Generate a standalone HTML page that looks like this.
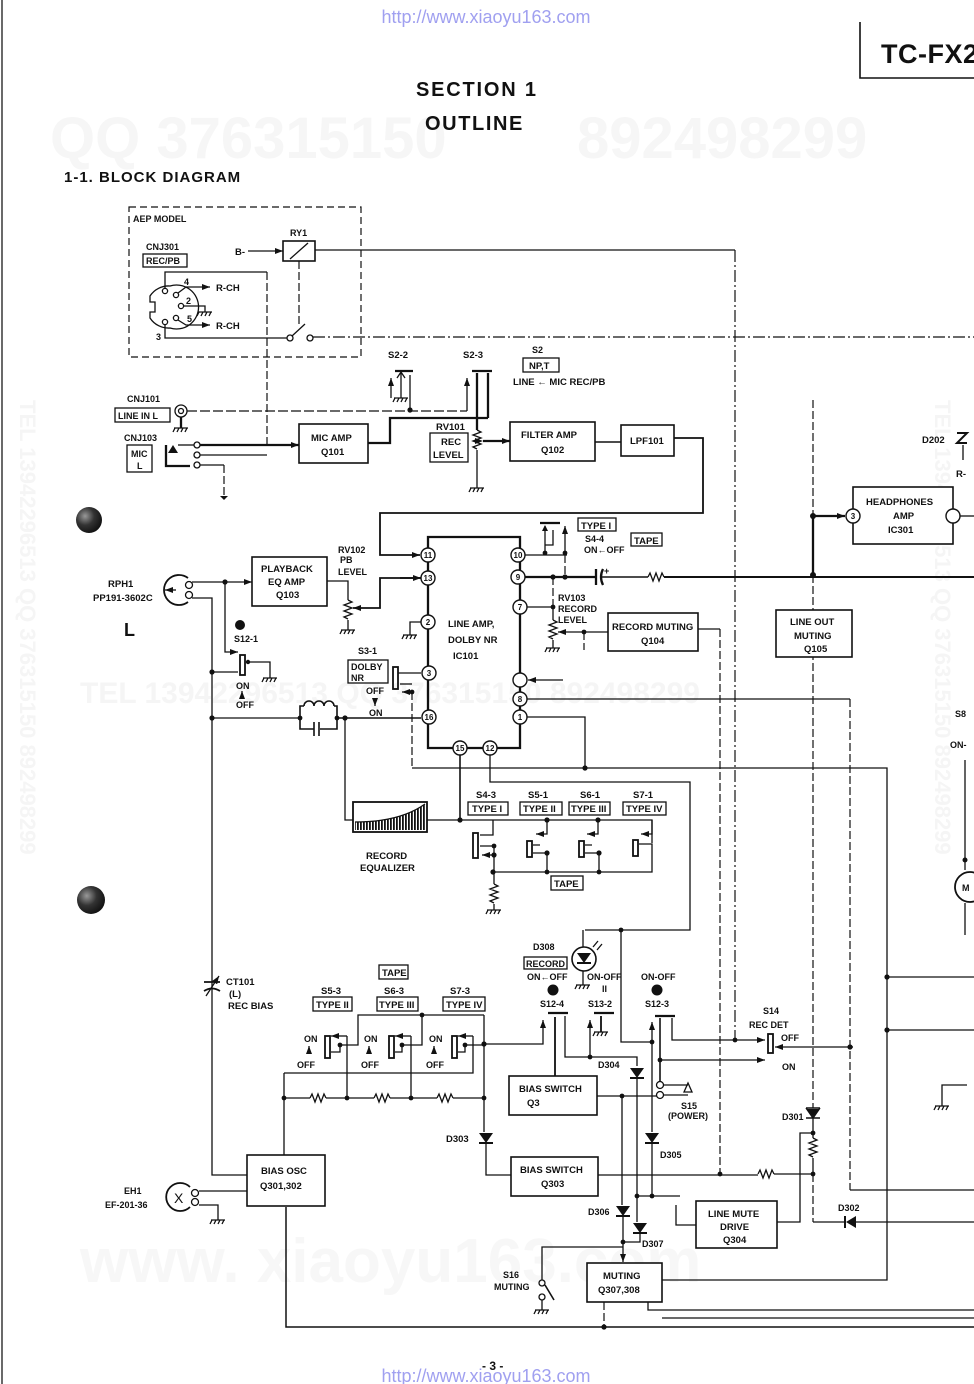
<!DOCTYPE html>
<html><head><meta charset="utf-8">
<style>
html,body{margin:0;padding:0;background:#fff;}
svg{display:block;}
text{font-family:"Liberation Sans",sans-serif;fill:#111;font-weight:bold;font-size:9.5px;}
.w{fill:none;stroke:#111;stroke-width:1.3;}
.k{fill:none;stroke:#111;stroke-width:2.3;}
.d{fill:none;stroke:#111;stroke-width:1.2;stroke-dasharray:8,3;}
.dd{fill:none;stroke:#111;stroke-width:1.2;stroke-dasharray:12,3,2,3;}
.b{fill:#fff;stroke:#111;stroke-width:1.6;}
.dot{fill:#111;}
</style></head><body>
<svg width="974" height="1384" viewBox="0 0 974 1384" xmlns="http://www.w3.org/2000/svg">
<defs>
<g id="gnd"><path d="M-7,0H7M-6,0l-2,4M-2,0l-2,4M2,0l-2,4M6,0l-2,4" stroke="#111" stroke-width="1.3" fill="none"/></g>
<g id="dD"><path d="M-7,-5H7L0,5Z" fill="#111"/><path d="M-7,5H7" stroke="#111" stroke-width="2"/></g>
<g id="rV"><path d="M0,0l4,2l-8,3l8,3l-8,3l8,3l-8,3l4,2" stroke="#111" stroke-width="1.3" fill="none"/></g>
<g id="rH"><path d="M0,0l2,-4l3,8l3,-8l3,8l3,-8l2,4" stroke="#111" stroke-width="1.3" fill="none"/></g>
<marker id="ar" viewBox="0 0 8 6" refX="8" refY="3" markerWidth="8" markerHeight="6" markerUnits="userSpaceOnUse" orient="auto"><path d="M0,0L8,3L0,6Z" fill="#111"/></marker>
<pattern id="hatch" width="3" height="4" patternUnits="userSpaceOnUse"><rect width="3" height="4" fill="#fff"/><rect width="1.8" height="4" fill="#111"/></pattern>
<radialGradient id="hole" cx="0.35" cy="0.35" r="0.7"><stop offset="0" stop-color="#999"/><stop offset="0.5" stop-color="#333"/><stop offset="1" stop-color="#111"/></radialGradient>
</defs>

<!-- faint watermarks -->
<g>
<text x="50" y="158" style="font-size:58px;fill:#f6f6f6">QQ 376315150</text>
<text x="577" y="158" style="font-size:58px;fill:#f6f6f6">892498299</text>
<text x="80" y="703" style="font-size:30px;fill:#f5f5f5">TEL 13942296513   QQ 376315150   892498299</text>
<text x="80" y="1282" style="font-size:62px;fill:#f7f7f7">www. xiaoyu163.com</text>
<text transform="translate(20,400) rotate(90)" style="font-size:22px;fill:#f5f5f5">TEL 13942296513  QQ 376315150  892498299</text>
<text transform="translate(935,400) rotate(90)" style="font-size:22px;fill:#f5f5f5">TEL 13942296513  QQ 376315150  892498299</text>
</g>

<!-- page frame / header -->
<path d="M2,0V1384" stroke="#444" stroke-width="1.6"/>
<text x="486" y="23" text-anchor="middle" style="font-size:18px;font-weight:normal;fill:#a0a0f0">http://www.xiaoyu163.com</text>
<path d="M860,22V78H974" class="w" style="stroke-width:1.6"/>
<text x="881" y="63" style="font-size:27px;letter-spacing:0.5px">TC-FX2</text>
<text x="416" y="96" style="font-size:20px;letter-spacing:1.8px">SECTION 1</text>
<text x="425" y="130" style="font-size:20px;letter-spacing:1.6px">OUTLINE</text>
<text x="64" y="182" style="font-size:15px;letter-spacing:1px">1-1.  BLOCK DIAGRAM</text>

<circle cx="89" cy="520" r="13" fill="url(#hole)"/>
<circle cx="91" cy="900" r="14" fill="url(#hole)"/>

<!-- AEP model block -->
<rect x="129" y="207" width="232" height="150" class="d" style="stroke-dasharray:7,4"/>
<text x="133" y="222" style="font-size:9px">AEP MODEL</text>
<text x="146" y="250" style="font-size:9px">CNJ301</text>
<rect x="143" y="254" width="44" height="13" class="w"/>
<text x="146" y="264" style="font-size:9px">REC/PB</text>
<path d="M170,286A22,22 0 1 1 170,328A22,22 0 0 1 150,318V312H155V302H150V296A22,22 0 0 1 170,286Z" class="w"/>
<g class="w"><circle cx="165" cy="291" r="2.6"/><circle cx="176" cy="295" r="2.6"/><circle cx="181" cy="306" r="2.6"/><circle cx="176" cy="318" r="2.6"/><circle cx="165" cy="322" r="2.6"/></g>
<path d="M178,293L186,287H210" class="w" marker-end="url(#ar)"/>
<text x="184" y="285" style="font-size:9px">4</text><text x="216" y="291">R-CH</text>
<path d="M184,306H205V312" class="w"/><use href="#gnd" x="205" y="312"/>
<text x="186" y="304" style="font-size:9px">2</text>
<path d="M178,320L186,325H210" class="w" marker-end="url(#ar)"/>
<text x="187" y="322" style="font-size:9px">5</text><text x="216" y="329">R-CH</text>
<path d="M165,325V338H287" class="w"/><text x="156" y="340" style="font-size:9px">3</text>
<path d="M165,288V272H267" class="w"/>
<path d="M267,272V445" class="d"/>
<rect x="283" y="241" width="32" height="20" class="w" style="stroke-width:1.6"/>
<path d="M290,259L308,243" class="w"/>
<text x="290" y="236" style="font-size:9px">RY1</text>
<text x="235" y="255">B-</text>
<path d="M248,251H283" class="w" marker-end="url(#ar)"/>
<path d="M315,250H735" class="w"/>
<path d="M299,261V326" class="d"/>
<circle cx="290" cy="338" r="3" class="w"/><circle cx="310" cy="338" r="3" class="w"/>
<path d="M292,336L305,324" class="w"/>
<path d="M313,337H974" class="dd"/>

<!-- inputs -->
<text x="127" y="402" style="font-size:9px">CNJ101</text>
<rect x="115" y="408" width="55" height="14" class="w"/>
<text x="118" y="419" style="font-size:9px">LINE IN L</text>
<circle cx="181" cy="411" r="6" class="w"/><circle cx="181" cy="411" r="2.5" class="w"/>
<path d="M181,417V428" class="k"/><use href="#gnd" x="181" y="428"/>
<path d="M187,411H467" class="d" style="stroke-dasharray:10,3"/>
<circle cx="410" cy="410" r="2.6" class="dot"/>
<path d="M410,410V375" class="w"/>
<!-- S2-2 -->
<text x="388" y="358">S2-2</text>
<path d="M391,398V378" class="w" marker-end="url(#ar)"/>
<path d="M395,371H413" class="k"/>
<path d="M401,373V398M397,378L401,372L405,378" class="w"/><use href="#gnd" x="401" y="398"/>
<!-- S2-3 -->
<text x="463" y="358">S2-3</text>
<path d="M467,411V378" class="w" marker-end="url(#ar)"/>
<path d="M472,371H492" class="k"/>
<path d="M477,373V430M488,373V418" class="k"/>
<path d="M368,443H390V418H488" class="k"/>
<use href="#rV" x="477" y="430"/>
<path d="M477,450V488" class="w"/><use href="#gnd" x="477" y="488"/>
<path d="M483,441H510" class="k" marker-end="url(#ar)" marker-start="url(#ar)"/>

<text x="124" y="441" style="font-size:9px">CNJ103</text>
<rect x="127" y="445" width="25" height="27" class="w"/>
<text x="131" y="457" style="font-size:9px">MIC</text><text x="137" y="469" style="font-size:9px">L</text>
<path d="M166,445V466H190" class="k"/>
<path d="M168,453L173,445L178,453Z" fill="#111"/>
<g class="w"><circle cx="197" cy="445" r="3"/><circle cx="197" cy="455" r="3"/><circle cx="197" cy="465" r="3"/></g>
<path d="M178,445H194" class="w"/>
<path d="M200,445H299" class="k" marker-end="url(#ar)"/>
<path d="M200,455H267" class="w"/>
<path d="M200,465H224" class="w"/><path d="M224,465V495" class="d"/>
<path d="M220,496L228,496L224,500Z" fill="#111"/>

<rect x="299" y="424" width="69" height="39" class="b"/>
<text x="311" y="441">MIC AMP</text><text x="321" y="455">Q101</text>
<text x="436" y="430">RV101</text>
<rect x="430" y="433" width="38" height="29" class="w"/>
<text x="441" y="445">REC</text><text x="433" y="458">LEVEL</text>

<rect x="510" y="422" width="85" height="39" class="b"/>
<text x="521" y="438">FILTER AMP</text><text x="541" y="453">Q102</text>
<path d="M595,442H621" class="w" style="stroke-width:1.6"/>
<rect x="621" y="425" width="53" height="31" class="b"/>
<text x="630" y="444">LPF101</text>
<path d="M674,438H703V513H380V555H420" class="w" style="stroke-width:1.8" marker-end="url(#ar)"/>
<text x="532" y="353" style="font-size:9px">S2</text>
<rect x="523" y="358" width="36" height="14" class="w"/>
<text x="529" y="369">NP,T</text>
<text x="513" y="385">LINE ← MIC REC/PB</text>

<!-- long verticals right -->
<path d="M735,250V1040" class="dd"/>
<path d="M813,400V516" class="d"/>
<path d="M813,575V1108" class="d"/>

<!-- IC101 -->
<path d="M428,537H520V748H428Z" class="k"/>
<text x="448" y="627">LINE AMP,</text>
<text x="448" y="643">DOLBY NR</text>
<text x="453" y="659">IC101</text>

<!-- playback -->
<text x="108" y="587">RPH1</text>
<text x="93" y="601">PP191-3602C</text>
<text x="124" y="636" style="font-size:18px">L</text>
<path d="M188,578A15,15 0 1 0 188,602" class="w" style="stroke-width:1.8"/>
<path d="M176,590H165" class="w" marker-end="url(#ar)"/>
<circle cx="189" cy="585" r="3.5" class="w"/><circle cx="189" cy="595" r="3.5" class="w"/>
<path d="M192,582H252" class="w" marker-end="url(#ar)"/>
<circle cx="225" cy="582" r="2.6" class="dot"/>
<path d="M192,598H212V1175H247" class="w"/>
<circle cx="212" cy="672" r="2.6" class="dot"/><circle cx="212" cy="718" r="2.6" class="dot"/>
<path d="M225,582V652H238" class="w" marker-end="url(#ar)"/>
<rect x="240" y="655" width="5" height="20" class="w" style="stroke-width:1.8"/>
<path d="M212,672H238" class="w"/>
<circle cx="248" cy="662" r="2.2" class="dot"/>
<path d="M248,662H270V678" class="w"/><use href="#gnd" x="270" y="678"/>
<circle cx="240" cy="625" r="5" class="dot"/>
<text x="234" y="642" style="font-size:9px">S12-1</text>
<text x="236" y="689" style="font-size:9px">ON</text>
<path d="M242,698V691" class="w" marker-end="url(#ar)"/>
<text x="236" y="708" style="font-size:9px">OFF</text>

<rect x="252" y="557" width="75" height="49" class="b"/>
<text x="261" y="572">PLAYBACK</text><text x="268" y="585">EQ AMP</text><text x="276" y="598">Q103</text>
<path d="M327,581H348V600" class="w"/>
<use href="#rV" x="348" y="600"/>
<path d="M348,620V630" class="w"/><use href="#gnd" x="348" y="630"/>
<path d="M421,578H380V608H353" class="w" style="stroke-width:1.8" marker-end="url(#ar)"/>
<path d="M400,578H421" class="w" style="stroke-width:1.8" marker-end="url(#ar)"/>
<text x="338" y="553" style="font-size:9px">RV102</text>
<text x="340" y="563" style="font-size:9px">PB</text>
<text x="338" y="575" style="font-size:9px">LEVEL</text>
<path d="M421,622H410V635" class="w"/><use href="#gnd" x="410" y="635"/>

<!-- coil + cap -->
<path d="M212,718H300" class="w"/>
<path d="M300,718V706H304M334,706H337V718M304,706a5,5 0 0 1 10,0a5,5 0 0 1 10,0a5,5 0 0 1 10,0" class="w" style="stroke-width:1.6"/>
<path d="M300,718V729H314M320,729H337V718M314,722V736M319,722V736" class="w" style="stroke-width:1.6"/>
<circle cx="300" cy="718" r="2.4" class="dot"/><circle cx="337" cy="718" r="2.4" class="dot"/>
<path d="M337,718H421" class="w" style="stroke-width:1.6"/>
<circle cx="345" cy="718" r="2.6" class="dot"/>
<path d="M345,718V820H353" class="w"/>

<!-- S3-1 -->
<text x="358" y="654" style="font-size:9px">S3-1</text>
<rect x="348" y="660" width="40" height="23" class="w"/>
<text x="351" y="670" style="font-size:9px">DOLBY</text><text x="351" y="681" style="font-size:9px">NR</text>
<text x="366" y="694" style="font-size:9px">OFF</text>
<path d="M375,698V706" class="w" marker-end="url(#ar)"/>
<text x="369" y="716" style="font-size:9px">ON</text>
<rect x="393" y="667" width="5" height="22" class="w" style="stroke-width:1.8"/>
<path d="M398,673H421" class="w"/>
<path d="M412,684H400" class="w"/>
<path d="M412,692H402" class="w" marker-end="url(#ar)"/>
<circle cx="412" cy="692" r="2.4" class="dot"/>
<path d="M412,692V768" class="d"/>
<path d="M412,768H887V1280H662" class="w"/>

<!-- right of IC -->
<path d="M525,555H567" class="w"/>
<circle cx="545" cy="553" r="2.4" class="dot"/><circle cx="565" cy="553" r="2.4" class="dot"/>
<path d="M540,523H560" class="k"/>
<path d="M545,526V553M553,530V545H545" class="w"/>
<path d="M542,531L545,525L548,531Z" fill="#111"/>
<path d="M565,553V526" class="w" marker-end="url(#ar)"/>
<path d="M565,555V577" class="d"/>
<rect x="578" y="518" width="38" height="13" class="w"/>
<text x="581" y="529">TYPE I</text>
<text x="585" y="542" style="font-size:9px">S4-4</text>
<text x="584" y="553" style="font-size:9px">ON←OFF</text>
<rect x="631" y="533" width="31" height="13" class="w"/>
<text x="634" y="544">TAPE</text>

<path d="M525,577H595" class="k"/>
<path d="M596,569V585" class="k"/><path d="M603,569Q599,577 603,585" class="k"/>
<text x="604" y="574" style="font-size:9px">+</text>
<path d="M601,577H648" class="w" style="stroke-width:1.6"/>
<use href="#rH" x="648" y="577"/>
<path d="M664,577H974" class="k" style="stroke-width:2.1"/>
<circle cx="553" cy="577" r="2.6" class="dot"/><circle cx="565" cy="577" r="2.6" class="dot"/>

<path d="M553,577V607" class="d"/>
<path d="M527,607H553V620" class="w"/>
<circle cx="553" cy="607" r="2.4" class="dot"/>
<use href="#rV" x="553" y="620"/>
<path d="M553,640V648" class="w"/><use href="#gnd" x="553" y="648"/>
<path d="M608,632H558" class="w" marker-end="url(#ar)"/>
<circle cx="584" cy="632" r="2.4" class="dot"/>
<path d="M584,632V650" class="d"/>
<text x="558" y="601" style="font-size:9px">RV103</text>
<text x="558" y="612" style="font-size:9px">RECORD</text>
<text x="558" y="623" style="font-size:9px">LEVEL</text>
<rect x="608" y="613" width="90" height="38" class="b"/>
<text x="612" y="630">RECORD MUTING</text><text x="641" y="644">Q104</text>
<path d="M698,629H720" class="w"/>
<path d="M720,629V1174" class="d"/>

<path d="M563,680H528" class="w" marker-end="url(#ar)"/>
<path d="M527,699H850" class="w"/>
<path d="M850,699V1190" class="d"/>
<path d="M850,1190H974" class="w"/>
<path d="M527,717H585V768" class="w"/>
<circle cx="585" cy="768" r="2.6" class="dot"/>

<!-- pins -->
<g style="fill:#fff;stroke:#111;stroke-width:1.4">
<circle cx="428" cy="555" r="7"/><circle cx="428" cy="578" r="7"/><circle cx="428" cy="622" r="7"/>
<circle cx="429" cy="673" r="7"/><circle cx="429" cy="717" r="7"/><circle cx="460" cy="748" r="7"/>
<circle cx="490" cy="748" r="7"/><circle cx="518" cy="555" r="7"/><circle cx="518" cy="577" r="7"/>
<circle cx="520" cy="607" r="7"/><circle cx="520" cy="680" r="7"/><circle cx="520" cy="699" r="7"/>
<circle cx="520" cy="717" r="7"/>
</g>
<g>
<text x="428" y="558" text-anchor="middle" style="font-size:8px">11</text>
<text x="428" y="581" text-anchor="middle" style="font-size:8px">13</text>
<text x="428" y="625" text-anchor="middle" style="font-size:8px">2</text>
<text x="429" y="676" text-anchor="middle" style="font-size:8px">3</text>
<text x="429" y="720" text-anchor="middle" style="font-size:8px">16</text>
<text x="460" y="751" text-anchor="middle" style="font-size:8px">15</text>
<text x="490" y="751" text-anchor="middle" style="font-size:8px">12</text>
<text x="518" y="558" text-anchor="middle" style="font-size:8px">10</text>
<text x="518" y="580" text-anchor="middle" style="font-size:8px">9</text>
<text x="520" y="610" text-anchor="middle" style="font-size:8px">7</text>
<text x="520" y="702" text-anchor="middle" style="font-size:8px">8</text>
<text x="520" y="720" text-anchor="middle" style="font-size:8px">1</text>
</g>

<!-- headphones / line out -->
<rect x="853" y="487" width="100" height="57" class="b"/>
<text x="866" y="505">HEADPHONES</text><text x="893" y="519">AMP</text><text x="888" y="533">IC301</text>
<path d="M813,575V516H845" class="k" marker-end="url(#ar)"/>
<circle cx="813" cy="516" r="3" class="dot"/><circle cx="813" cy="575" r="3" class="dot"/>
<circle cx="853" cy="516" r="7" style="fill:#fff;stroke:#111;stroke-width:1.4"/>
<text x="853" y="519" text-anchor="middle" style="font-size:8px">3</text>
<circle cx="953" cy="516" r="7" style="fill:#fff;stroke:#111;stroke-width:1.4"/>
<path d="M960,516H974" class="w"/>
<rect x="776" y="610" width="76" height="47" class="b"/>
<text x="790" y="625">LINE OUT</text><text x="794" y="639">MUTING</text><text x="804" y="652">Q105</text>
<text x="922" y="443">D202</text>
<path d="M957,433H967L957,443H967" class="w" style="stroke-width:2"/>
<path d="M963,445V460" class="w"/>
<text x="956" y="477">R-</text>
<text x="955" y="717" style="font-size:9px">S8</text>
<text x="950" y="748" style="font-size:9px">ON-</text>
<path d="M965,760V870M965,903V935" class="w"/>
<circle cx="965" cy="860" r="2.5" class="dot"/>
<circle cx="970" cy="887" r="15" class="w" style="stroke-width:1.8"/>
<text x="962" y="891" style="font-size:9px">M</text>

<!-- record equalizer & type switches -->
<rect x="353" y="802" width="74" height="30" class="w" style="stroke-width:1.8"/>
<path d="M355,830V822Q400,822 425,804V830Z" fill="url(#hatch)"/>
<path d="M355,822Q400,822 425,804" class="w"/>
<text x="366" y="859">RECORD</text><text x="360" y="871">EQUALIZER</text>
<path d="M460,755V820" class="w" style="stroke-width:1.6"/>
<path d="M490,755V782H690V930H585" class="w"/>
<path d="M427,820H652V843" class="w"/>
<circle cx="460" cy="820" r="2.6" class="dot"/>
<text x="476" y="798">S4-3</text><rect x="468" y="802" width="40" height="13" class="w"/><text x="472" y="812">TYPE I</text>
<text x="528" y="798">S5-1</text><rect x="520" y="802" width="42" height="13" class="w"/><text x="523" y="812">TYPE II</text>
<text x="580" y="798">S6-1</text><rect x="569" y="802" width="41" height="13" class="w"/><text x="571" y="812">TYPE III</text>
<text x="633" y="798">S7-1</text><rect x="623" y="802" width="43" height="13" class="w"/><text x="626" y="812">TYPE IV</text>
<!-- S4-3 -->
<rect x="473" y="833" width="5" height="25" class="w" style="stroke-width:1.8"/>
<path d="M493,820V835H480M480,846H494V872" class="w"/>
<path d="M494,855H482" class="w" marker-end="url(#ar)"/>
<circle cx="494" cy="855" r="2.6" class="dot"/><circle cx="494" cy="846" r="2.4" class="dot"/>
<!-- S5-1 -->
<circle cx="547" cy="820" r="2.6" class="dot"/>
<path d="M547,820V834H536" class="w" marker-end="url(#ar)"/>
<rect x="527" y="841" width="5" height="16" class="w" style="stroke-width:1.8"/>
<path d="M533,845H540M533,853H547V872" class="w"/>
<circle cx="547" cy="853" r="2.6" class="dot"/>
<!-- S6-1 -->
<circle cx="598" cy="820" r="2.6" class="dot"/>
<path d="M598,820V834H587" class="w" marker-end="url(#ar)"/>
<rect x="579" y="841" width="5" height="16" class="w" style="stroke-width:1.8"/>
<path d="M585,845H592M585,853H599V872" class="w"/>
<circle cx="599" cy="853" r="2.6" class="dot"/>
<!-- S7-1 -->
<path d="M652,820V834H641" class="w" marker-end="url(#ar)"/>
<rect x="633" y="840" width="5" height="16" class="w" style="stroke-width:1.8"/>
<path d="M639,844H652V872H493" class="w"/>
<circle cx="493" cy="872" r="2.6" class="dot"/><circle cx="547" cy="872" r="2.4" class="dot"/><circle cx="599" cy="872" r="2.4" class="dot"/>
<path d="M494,872V884" class="w"/><use href="#rV" x="494" y="884"/>
<path d="M494,904V910" class="w"/><use href="#gnd" x="494" y="910"/>
<rect x="551" y="876" width="32" height="14" class="w"/><text x="554" y="887">TAPE</text>

<!-- CT101 -->
<path d="M204,982H220M204,991Q212,986 220,991" class="w" style="stroke-width:1.8"/>
<path d="M206,996L219,976" class="w" marker-end="url(#ar)"/>
<text x="226" y="985">CT101</text><text x="229" y="997">(L)</text><text x="228" y="1009">REC BIAS</text>

<!-- S5-3..S7-3 -->
<rect x="379" y="965" width="29" height="14" class="w"/><text x="382" y="976">TAPE</text>
<text x="321" y="994">S5-3</text><rect x="313" y="997" width="39" height="14" class="w"/><text x="316" y="1008">TYPE II</text>
<text x="384" y="994">S6-3</text><rect x="377" y="997" width="41" height="14" class="w"/><text x="379" y="1008">TYPE III</text>
<text x="450" y="994">S7-3</text><rect x="443" y="997" width="42" height="14" class="w"/><text x="446" y="1008">TYPE IV</text>
<g>
<text x="304" y="1042" style="font-size:9px">ON</text><path d="M309,1054V1046" class="w" marker-end="url(#ar)"/><text x="297" y="1068" style="font-size:9px">OFF</text>
<text x="364" y="1042" style="font-size:9px">ON</text><path d="M369,1054V1046" class="w" marker-end="url(#ar)"/><text x="361" y="1068" style="font-size:9px">OFF</text>
<text x="429" y="1042" style="font-size:9px">ON</text><path d="M434,1054V1046" class="w" marker-end="url(#ar)"/><text x="426" y="1068" style="font-size:9px">OFF</text>
</g>
<rect x="325" y="1036" width="5" height="22" class="w" style="stroke-width:1.8"/>
<rect x="389" y="1036" width="5" height="22" class="w" style="stroke-width:1.8"/>
<rect x="452" y="1036" width="5" height="22" class="w" style="stroke-width:1.8"/>
<path d="M347,1036H331" class="w" marker-end="url(#ar)"/>
<path d="M411,1036H395" class="w" marker-end="url(#ar)"/>
<path d="M473,1036H458" class="w" marker-end="url(#ar)"/>
<path d="M331,1052H340V1045H358V1015H484M395,1052H402V1045H422V1015M458,1052H465V1045H484" class="w"/>
<circle cx="340" cy="1045" r="2.4" class="dot"/><circle cx="402" cy="1045" r="2.4" class="dot"/><circle cx="465" cy="1045" r="2.4" class="dot"/>
<circle cx="422" cy="1015" r="2.4" class="dot"/><circle cx="484" cy="1044" r="2.6" class="dot"/>
<path d="M347,1036V1098M411,1036V1098M473,1036V1073H284" class="w"/>
<path d="M284,1098H310" class="w"/><use href="#rH" x="310" y="1098"/>
<path d="M326,1098H374" class="w"/><use href="#rH" x="374" y="1098"/>
<path d="M390,1098H437" class="w"/><use href="#rH" x="437" y="1098"/>
<path d="M453,1098H484" class="w"/>
<circle cx="347" cy="1098" r="2.4" class="dot"/><circle cx="411" cy="1098" r="2.4" class="dot"/><circle cx="484" cy="1098" r="2.4" class="dot"/><circle cx="284" cy="1098" r="2.4" class="dot"/>
<path d="M484,1015V1132" class="w"/>
<use href="#dD" x="486" y="1138"/>
<text x="446" y="1142">D303</text>
<path d="M486,1143V1175H511" class="w"/>
<path d="M484,1044H543V1020" class="w" marker-end="url(#ar)"/>
<path d="M284,1073V1155" class="w"/>

<!-- D308 / S12 / S13 -->
<text x="533" y="950" style="font-size:9px">D308</text>
<rect x="524" y="957" width="43" height="12" class="w"/><text x="526" y="967" style="font-size:9px">RECORD</text>
<path d="M583,930V947M583,971V985" class="w"/>
<circle cx="584" cy="959" r="12" class="w" style="stroke-width:1.6"/>
<use href="#dD" x="584" y="958"/>
<path d="M593,947L598,941M597,950L602,944" class="w"/>
<use href="#gnd" x="583" y="985"/>
<circle cx="621" cy="930" r="2.4" class="dot"/>
<text x="527" y="980" style="font-size:9px">ON←OFF</text>
<circle cx="553" cy="990" r="5.5" class="dot"/>
<text x="540" y="1007" style="font-size:9px">S12-4</text>
<path d="M548,1013H568" class="k"/>
<path d="M555,1017V1076" class="k" style="stroke-width:1.8"/>
<path d="M565,1016V1057H637V1066" class="w"/>
<text x="587" y="980" style="font-size:9px">ON-OFF</text>
<text x="602" y="992" style="font-size:9px">II</text>
<text x="588" y="1007" style="font-size:9px">S13-2</text>
<path d="M594,1013H614" class="k"/>
<path d="M590,1057V1020" class="w" marker-end="url(#ar)"/>
<path d="M601,1016V1032" class="w" style="stroke-width:1.8"/><use href="#gnd" x="601" y="1032"/>
<circle cx="590" cy="1057" r="2.4" class="dot"/>
<text x="641" y="980" style="font-size:9px">ON-OFF</text>
<circle cx="657" cy="990" r="5.5" class="dot"/>
<text x="645" y="1007" style="font-size:9px">S12-3</text>
<path d="M655,1016H675" class="k"/>
<path d="M621,930V1042H652" class="w"/>
<path d="M652,1042V1022" class="w" marker-end="url(#ar)"/>
<circle cx="652" cy="1042" r="2.4" class="dot"/>
<path d="M660,1018V1082" class="w" style="stroke-width:1.6"/>
<circle cx="660" cy="1060" r="2.4" class="dot"/>
<path d="M660,1060H765" class="w" marker-end="url(#ar)"/>
<path d="M672,1018V1040H765" class="w" marker-end="url(#ar)"/>
<circle cx="735" cy="1040" r="2.4" class="dot"/>
<rect x="768" y="1034" width="5" height="19" class="w" style="stroke-width:1.8"/>
<path d="M853,1047H775" class="w" marker-end="url(#ar)"/>
<circle cx="850" cy="1047" r="2.6" class="dot"/>
<text x="763" y="1014" style="font-size:9px">S14</text>
<text x="749" y="1028" style="font-size:9px">REC DET</text>
<text x="781" y="1041" style="font-size:9px">OFF</text>
<text x="782" y="1070" style="font-size:9px">ON</text>

<rect x="509" y="1076" width="88" height="39" class="b"/>
<text x="519" y="1092">BIAS SWITCH</text><text x="527" y="1106">Q3</text>
<use href="#dD" x="637" y="1073"/>
<text x="598" y="1068" style="font-size:9px">D304</text>
<path d="M637,1078V1222" class="w"/>
<use href="#dD" x="640" y="1228"/>
<text x="642" y="1247" style="font-size:9px">D307</text>
<path d="M652,1042V1132" class="w"/>
<use href="#dD" x="652" y="1138"/>
<text x="660" y="1158" style="font-size:9px">D305</text>
<path d="M652,1143V1196M637,1196H680" class="w"/>
<circle cx="637" cy="1196" r="2.4" class="dot"/><circle cx="652" cy="1196" r="2.4" class="dot"/>
<path d="M597,1096H657" class="w"/>
<circle cx="622" cy="1096" r="2.4" class="dot"/>
<circle cx="660" cy="1085" r="3.5" class="w"/><circle cx="660" cy="1095" r="3.5" class="w"/>
<path d="M663,1085H688M663,1095H688M684,1092L688,1083L692,1092Z" class="w"/>
<text x="681" y="1109" style="font-size:9px">S15</text>
<text x="668" y="1119" style="font-size:9px">(POWER)</text>
<path d="M622,1096V1205" class="w"/>
<use href="#dD" x="623" y="1211"/>
<text x="588" y="1215" style="font-size:9px">D306</text>
<path d="M623,1216V1262" class="w" marker-end="url(#ar)"/>
<path d="M623,1242H640V1233" class="w"/>
<circle cx="623" cy="1242" r="2.4" class="dot"/>

<rect x="511" y="1157" width="87" height="39" class="b"/>
<text x="520" y="1173">BIAS SWITCH</text><text x="541" y="1187">Q303</text>
<path d="M598,1175H758" class="w"/>
<use href="#rH" x="758" y="1174"/>
<path d="M774,1174H813" class="w"/>
<circle cx="720" cy="1174" r="2.4" class="dot"/>

<!-- D301 / D302 / line mute -->
<path d="M806,1108H820M806,1108L813,1118L820,1108M806,1118H820" class="w" style="stroke-width:1.4"/>
<path d="M807,1109H819L813,1117Z" fill="#111"/>
<text x="782" y="1120" style="font-size:9px">D301</text>
<path d="M813,1118V1138" class="w"/>
<use href="#rV" x="813" y="1138"/>
<path d="M813,1158V1174" class="w"/>
<circle cx="813" cy="1133" r="2.4" class="dot"/><circle cx="813" cy="1174" r="2.4" class="dot"/>
<path d="M813,1174V1222" class="d"/>
<path d="M813,1222H844M856,1222H974" class="w"/>
<path d="M856,1216V1228L846,1222Z" fill="#111"/><path d="M845,1216V1228" class="w" style="stroke-width:2"/>
<text x="838" y="1211" style="font-size:9px">D302</text>
<rect x="696" y="1201" width="81" height="47" class="b"/>
<text x="708" y="1217">LINE MUTE</text><text x="720" y="1230">DRIVE</text><text x="723" y="1243">Q304</text>
<path d="M777,1222H800V1133H813" class="w"/>
<path d="M696,1225H676V1205" class="w"/>

<path d="M887,977H974M887,1030H974" class="w"/>
<circle cx="887" cy="977" r="2.6" class="dot"/><circle cx="887" cy="1030" r="2.6" class="dot"/>
<path d="M967,1085H942V1106" class="w"/><use href="#gnd" x="942" y="1106"/>

<!-- muting -->
<rect x="587" y="1263" width="75" height="39" class="b"/>
<text x="603" y="1279">MUTING</text><text x="598" y="1293">Q307,308</text>
<path d="M604,1302V1327" class="d"/>
<path d="M648,1302V1310H974M662,1318H974" class="w"/>
<path d="M286,1207V1327H974" class="w" style="stroke-width:1.5"/>
<circle cx="604" cy="1327" r="2.6" class="dot"/>

<text x="503" y="1278" style="font-size:9px">S16</text>
<text x="494" y="1290" style="font-size:9px">MUTING</text>
<path d="M542,1280V1247H623" class="w"/>
<circle cx="542" cy="1283" r="3" class="w"/><circle cx="542" cy="1297" r="3" class="w"/>
<path d="M545,1285L554,1300" class="w" style="stroke-width:1.6"/>
<path d="M542,1300V1310" class="w"/><use href="#gnd" x="542" y="1310"/>

<!-- bias osc / erase head -->
<rect x="247" y="1155" width="78" height="51" class="b"/>
<text x="261" y="1174">BIAS OSC</text><text x="260" y="1189">Q301,302</text>
<text x="124" y="1194" style="font-size:9px">EH1</text>
<text x="105" y="1208" style="font-size:9px">EF-201-36</text>
<path d="M190,1187A14,14 0 1 0 190,1207" class="w" style="stroke-width:1.8"/>
<text x="174" y="1203" style="font-size:14px;font-weight:normal">X</text>
<circle cx="195" cy="1193" r="3.5" class="w"/><circle cx="195" cy="1202" r="3.5" class="w"/>
<path d="M199,1191H247" class="w"/>
<path d="M199,1205H218V1220" class="w"/><use href="#gnd" x="218" y="1220"/>

<!-- footer -->
<text x="482" y="1370" style="font-size:12px">- 3 -</text>
<text x="486" y="1382" text-anchor="middle" style="font-size:18px;font-weight:normal;fill:#a0a0f0">http://www.xiaoyu163.com</text>
</svg>
</body></html>
